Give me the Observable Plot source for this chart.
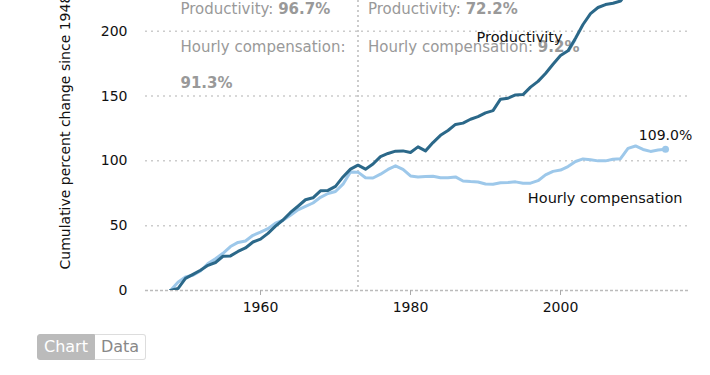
<!DOCTYPE html>
<html>
<head>
<meta charset="utf-8">
<script src="https://cdn.jsdelivr.net/npm/d3@7"></script>
<script src="https://cdn.jsdelivr.net/npm/@observablehq/plot@0.6"></script>
<style>
  body { margin: 0; background: #fff; font-family: "DejaVu Sans", sans-serif; }
  #buttons { margin: 14px 0 0 37px; display: flex; font-size: 16px; height: 26px; }
  #buttons span { display: inline-block; line-height: 24px; height: 24px; padding: 0 6px; }
  #buttons .on { background: #bbb; color: #fff; border: 1px solid #bbb; border-radius: 3px 0 0 3px; }
  #buttons .off { background: #fff; color: #888; border: 1px solid #ddd; border-left: none; border-radius: 0 3px 3px 0; }
</style>
</head>
<body>
<div id="chart"></div>
<div id="buttons"><span class="on">Chart</span><span class="off">Data</span></div>
<script>
const years = d3.range(1948, 2015);
const productivity = [0.0, 1.5, 9.3, 12.4, 15.6, 19.4, 21.6, 26.4, 26.7, 30.1, 32.8, 37.4, 39.6, 44.1, 49.7, 54.4, 60.2, 65.0, 70.0, 71.5, 76.9, 77.2, 80.3, 87.6, 93.6, 96.7, 93.6, 97.6, 103.3, 105.7, 107.5, 107.7, 106.5, 110.8, 107.7, 114.1, 119.7, 123.4, 128.1, 129.1, 132.1, 134.1, 137.0, 138.8, 147.6, 148.3, 150.9, 151.1, 156.9, 161.3, 167.4, 174.5, 181.2, 184.9, 194.6, 205.2, 213.6, 218.3, 220.6, 221.6, 223.3, 230.9, 239.6, 237.1, 236.5, 238.5, 238.7];
const compensation = [0.0, 6.3, 10.5, 11.8, 15.0, 20.8, 24.5, 28.7, 33.9, 37.1, 38.2, 42.6, 45.0, 47.7, 52.0, 54.2, 58.0, 62.2, 64.9, 67.5, 71.9, 74.8, 76.4, 82.0, 91.4, 91.3, 87.0, 86.8, 89.7, 93.4, 96.2, 93.5, 88.4, 87.6, 87.9, 88.2, 87.0, 86.9, 87.6, 84.5, 84.0, 83.7, 82.2, 81.9, 83.1, 83.3, 83.8, 82.7, 82.8, 84.7, 89.2, 91.9, 92.9, 95.6, 99.5, 101.5, 100.9, 100.0, 100.0, 101.2, 101.7, 109.6, 111.5, 108.8, 107.3, 108.3, 109.0];
const periodStart = [1948, 1973];
const periodProd = [96.7, 72.2];
const periodComp = [91.3, 9.2];
const xTicks = [1960, 1980, 2000];
const yTicks = [0, 50, 100, 150, 200];
const gridValues = [50, 100, 150, 200];

const prodData = years.map((y, i) => ({year: y, value: productivity[i]}));
const compData = years.map((y, i) => ({year: y, value: compensation[i]}));
const periods = periodStart.map((s, i) => ({i, start: s, prod: periodProd[i], comp: periodComp[i]}));
const lastComp = compData[compData.length - 1];
const prodLabelPoint = prodData.find(d => d.year === 2000);

const DARK = "#2b6889";
const LIGHT = "#9dc8ea";
const GREY = "#999";
const FONT = "DejaVu Sans, sans-serif";

const chart = Plot.plot({
  width: 710,
  height: 320,
  marginTop: 0,
  marginBottom: 30,
  marginLeft: 145,
  marginRight: 20,
  style: {fontFamily: FONT, fontSize: "14px", color: "#111", background: "#fff"},
  x: {domain: [1944.67, 2017.33]},
  y: {domain: [0, 223.7]},
  marks: [
    Plot.ruleY(gridValues, {stroke: "#ccc", strokeWidth: 1.5, strokeDasharray: "2,4"}),
    Plot.ruleY([0], {stroke: "#bbb", strokeWidth: 1.5, strokeDasharray: "3,2"}),
    Plot.ruleX([1973], {stroke: "#bbb", strokeWidth: 1.5, strokeDasharray: "2,3"}),
    Plot.axisX({ticks: xTicks, tickFormat: d => String(d), tickSize: 5, tickPadding: 7, stroke: "#aaa", fontSize: 14, label: null}),
    Plot.axisY({ticks: yTicks, tickSize: 0, tickPadding: 18, fontSize: 14, label: null}),
    Plot.text(["Cumulative percent change since 1948"], {frameAnchor: "bottom-left", dx: -80, dy: -21, rotate: -90, textAnchor: "start", lineAnchor: "middle", fontSize: 14, fill: "#111"}),
    // period annotations
    Plot.text(periods, {x: "start", frameAnchor: "top", dx: 10, dy: 9, textAnchor: "start", lineAnchor: "middle", fontSize: 15, fill: GREY, className: "annot", text: d => `Productivity: |${d.prod}%`}),
    Plot.text(periods, {x: "start", frameAnchor: "top", dx: 10, dy: 47, textAnchor: "start", lineAnchor: "middle", fontSize: 15, fill: GREY, className: "annot", text: d => d.i === 0 ? "Hourly compensation:" : `Hourly compensation: |${d.comp}%`}),
    Plot.text(periods.filter(d => d.i === 0), {x: "start", frameAnchor: "top", dx: 10, dy: 83, textAnchor: "start", lineAnchor: "middle", fontSize: 15, fill: GREY, className: "annot", text: d => `|${d.comp}%`}),
    // lines
    Plot.line(compData, {x: "year", y: "value", stroke: LIGHT, strokeWidth: 3, clip: "frame"}),
    Plot.line(prodData, {x: "year", y: "value", stroke: DARK, strokeWidth: 3, clip: "frame"}),
    Plot.dot([lastComp], {x: "year", y: "value", r: 3.5, fill: LIGHT}),
    // series labels
    Plot.text([prodLabelPoint], {x: "year", y: "value", text: () => "Productivity", dx: 2, dy: -18, textAnchor: "end", lineAnchor: "middle", fontSize: 14.5, fill: "#111"}),
    Plot.text([lastComp], {x: "year", y: "value", text: () => "Hourly compensation", dx: 17, dy: 49, textAnchor: "end", lineAnchor: "middle", fontSize: 14.5, fill: "#111"}),
    Plot.text([lastComp], {x: "year", y: "value", text: d => `${d.value.toFixed(1)}%`, dy: -14, textAnchor: "middle", lineAnchor: "middle", fontSize: 14, fill: "#111"})
  ]
});

d3.select(chart).selectAll("g.annot text").each(function() {
  const t = this.textContent;
  if (!t.includes("|")) return;
  const [a, b] = t.split("|");
  const sel = d3.select(this);
  sel.text(null);
  if (a) sel.append("tspan").text(a);
  sel.append("tspan").attr("font-weight", "bold").text(b);
});

document.getElementById("chart").appendChild(chart);
</script>
</body>
</html>
